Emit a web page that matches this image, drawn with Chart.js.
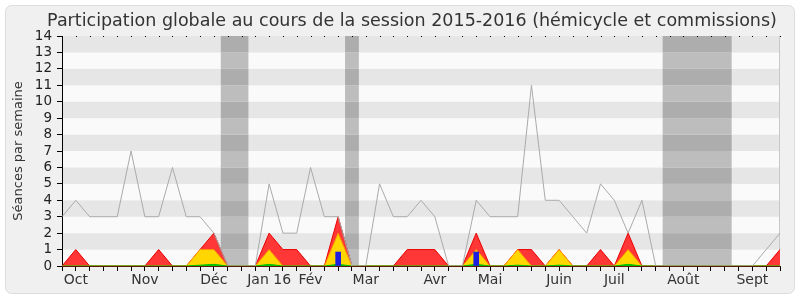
<!DOCTYPE html>
<html lang="fr">
<head>
<meta charset="utf-8">
<title>Participation globale 2015-2016</title>
<script src="https://cdn.jsdelivr.net/npm/chart.js@4.4.1/dist/chart.umd.min.js"></script>
<style>
  html, body { margin: 0; padding: 0; background: #fff; }
  canvas { display: block; }
</style>
</head>
<body>
<canvas id="chart" width="800" height="300"></canvas>
<script>
// textes
var titre     = "Participation globale au cours de la session 2015-2016 (hémicycle et commissions)";
var titreAxeY = "Séances par semaine";

// semaines de la session et mois affichés sous l'axe
var nbSemaines  = 53;
var moisLabels  = ["Oct", "Nov", "Déc", "Jan 16", "Fév", "Mar", "Avr", "Mai", "Juin", "Juil", "Août", "Sept"];
var moisSemaine = [1, 6, 11, 15, 18, 22, 27, 31, 36, 40, 45, 50];

// vacances parlementaires (début / fin, en semaines)
var vacances = [[11.5, 13.5], [20.5, 21.5], [43.5, 48.5]];

// axe vertical
var ymin  = 0;
var ymax  = 14;
var ystep = 1;

// séries (une valeur par semaine)
var presences     = [0, 1, 0, 0, 0, 0, 0, 1, 0, 0,  1, 2, 0, 0, 0, 2, 1, 1, 0, 0,  3, 0, 0, 0, 0, 1, 1, 1, 0, 0,  2, 0, 0, 1, 1, 0, 1, 0, 0, 1,  0, 2, 0, 0, 0, 0, 0, 0, 0, 0,  0, 0, 1];
var hemicycle     = [0, 0, 0, 0, 0, 0, 0, 0, 0, 0,  1, 1, 0, 0, 0, 1, 0, 0, 0, 0,  2, 0, 0, 0, 0, 0, 0, 0, 0, 0,  1, 0, 0, 1, 0, 0, 1, 0, 0, 0,  0, 1, 0, 0, 0, 0, 0, 0, 0, 0,  0, 0, 0];
var interventions = [0, 0, 0, 0, 0, 0, 0, 0, 0, 0,  0.05, 0.1, 0, 0, 0, 0.1, 0, 0, 0, 0,  0.1, 0, 0, 0, 0, 0, 0, 0, 0, 0,  0.1, 0, 0, 0.05, 0, 0, 0.05, 0, 0, 0,  0, 0.1, 0, 0, 0, 0, 0, 0, 0, 0,  0, 0, 0];
var questions     = [null, null, null, null, null, null, null, null, null, null,  null, null, null, null, null, null, null, null, null, null,  0.85, null, null, null, null, null, null, null, null, null,  0.85, null, null, null, null, null, null, null, null, null,  null, null, null, null, null, null, null, null, null, null,  null, null, null];
var mediane       = [3, 4, 3, 3, 3, 7, 3, 3, 6, 3,  3, 2, 0, 0, 0, 5, 2, 2, 6, 3,  3, 0, 0, 5, 3, 3, 4, 3, 0, 0,  4, 3, 3, 3, 11, 4, 4, 3, 2, 5,  4, 2, 4, 0, 0, 0, 0, 0, 0, 0,  0, 1, 2];

var semaines = [];
for (var i = 0; i < nbSemaines; i++) semaines.push("");
for (var k = 0; k < moisSemaine.length; k++) semaines[moisSemaine[k]] = moisLabels[k];

Chart.defaults.font.family = '"DejaVu Sans", sans-serif';

// fond, bandes horizontales et vacances
var fondPlugin = {
  id: "fond",
  beforeDraw: function (chart) {
    var ctx = chart.ctx, a = chart.chartArea;
    var xs = chart.scales.x, ys = chart.scales.y;
    ctx.save();
    ctx.fillStyle = "#ffffff";
    ctx.fillRect(0, 0, chart.width, chart.height);
    ctx.beginPath();
    ctx.roundRect(5.5, 5.5, 789, 288, 6);
    ctx.fillStyle = "#f0f0f0";
    ctx.fill();
    ctx.strokeStyle = "#dddddd";
    ctx.lineWidth = 1;
    ctx.stroke();

    for (var v = ymin; v < ymax; v++) {
      var y1 = ys.getPixelForValue(v + 1), y2 = ys.getPixelForValue(v);
      ctx.fillStyle = (v % 2 === 1) ? "#e6e6e6" : "#fafafa";
      ctx.fillRect(a.left, y1, a.right - a.left, y2 - y1);
    }
    vacances.forEach(function (p) {
      var x1 = xs.getPixelForValue(p[0]), x2 = xs.getPixelForValue(p[1]);
      for (var v = ymin; v < ymax; v++) {
        var y1 = ys.getPixelForValue(v + 1), y2 = ys.getPixelForValue(v);
        ctx.fillStyle = (v % 2 === 1) ? "#adadad" : "#bdbdbd";
        ctx.fillRect(x1, y1, x2 - x1, y2 - y1);
      }
    });
    ctx.strokeStyle = "#c8c8c8";
    ctx.beginPath();
    ctx.moveTo(a.right - 0.5, a.top);
    ctx.lineTo(a.right - 0.5, a.bottom);
    ctx.stroke();
    ctx.restore();
  },
  afterDraw: function (chart) {
    var ctx = chart.ctx, a = chart.chartArea, xs = chart.scales.x;
    ctx.save();
    ctx.fillStyle = "#000";
    for (var i = 0; i < nbSemaines; i++) {
      ctx.fillRect(Math.round(xs.getPixelForValue(i)), a.top, 1, 1);
    }
    ctx.font = '17.5px "DejaVu Sans"';
    ctx.fillStyle = "#333";
    ctx.textAlign = "center";
    ctx.textBaseline = "alphabetic";
    ctx.fillText(titre, 412, 26);
    ctx.restore();
  }
};

var ctx = document.getElementById("chart").getContext("2d");

var chart = new Chart(ctx, {
  type: "line",
  data: {
    labels: semaines,
    datasets: [
      {
        type: "bar",
        data: questions,
        backgroundColor: "rgb(30,30,225)",
        borderWidth: 0,
        barThickness: 5
      },
      {
        data: mediane,
        borderColor: "#aaaaaa",
        borderWidth: 1,
        fill: false,
        pointRadius: 0,
        tension: 0
      },
      {
        data: interventions,
        borderColor: "rgb(0,190,0)",
        backgroundColor: "rgb(0,200,0)",
        borderWidth: 1,
        fill: "origin",
        pointRadius: 0,
        tension: 0
      },
      {
        data: hemicycle,
        borderColor: "rgb(255,150,0)",
        backgroundColor: "rgb(255,214,0)",
        borderWidth: 1,
        fill: "origin",
        pointRadius: 0,
        tension: 0
      },
      {
        data: presences,
        borderColor: "rgb(235,0,0)",
        backgroundColor: "rgb(255,55,55)",
        borderWidth: 1,
        fill: "origin",
        pointRadius: 0,
        tension: 0
      }
    ]
  },
  options: {
    responsive: false,
    animation: false,
    layout: { padding: { top: 36, right: 20, bottom: 10, left: 5 } },
    plugins: {
      legend: { display: false },
      tooltip: { enabled: false }
    },
    scales: {
      x: {
        type: "category",
        offset: false,
        grid: { offset: false, drawOnChartArea: false, tickLength: 5, tickColor: "#000" },
        border: { color: "#5a1a0a", z: 1 },
        ticks: { autoSkip: false, maxRotation: 0, minRotation: 0, padding: 1, color: "#333", font: { size: 14 } },
        afterFit: function (s) { s.height = 24; }
      },
      y: {
        min: ymin,
        max: ymax,
        grid: { drawOnChartArea: false, tickLength: 5, tickColor: "#000" },
        border: { color: "#000" },
        ticks: { stepSize: ystep, autoSkip: false, padding: 5, color: "#222", font: { size: 13.5 } },
        title: { display: true, text: titreAxeY, color: "#333", font: { size: 13 }, padding: { top: 6, bottom: 0 } },
        afterFit: function (s) { s.width = 57; }
      }
    }
  },
  plugins: [fondPlugin]
});
</script>
</body>
</html>
